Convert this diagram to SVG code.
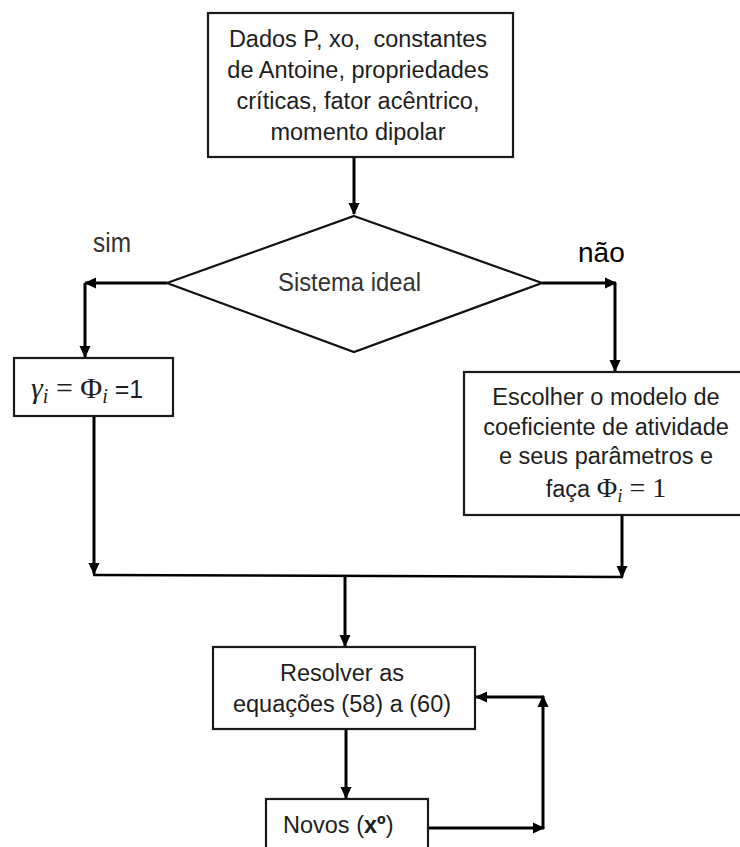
<svg xmlns="http://www.w3.org/2000/svg" width="740" height="847" viewBox="0 0 740 847">
  <defs>
    <marker id="ah" viewBox="0 0 12 12" refX="11" refY="6" markerWidth="12" markerHeight="12" markerUnits="userSpaceOnUse" orient="auto">
      <path d="M0,0.5 L12,6 L0,11.5 z" fill="#000"/>
    </marker>
    <style>
      .box { fill: #fff; stroke: #1a1a1a; stroke-width: 2.2; }
      .lbl { font-family: "Liberation Sans", Arial, sans-serif; font-size: 23.5px; fill: #1e1e1e; white-space: pre; }
      .nar { font-family: "Liberation Sans Narrow", "Liberation Sans", sans-serif; fill: #333; }
      .math { font-family: "Liberation Serif", "DejaVu Serif", serif; }
      .it { font-style: italic; }
      .con { fill: none; stroke: #000; stroke-width: 3; }
    </style>
  </defs>
  <rect width="740" height="847" fill="#fff"/>

  <!-- connectors -->
  <g id="connectors">
    <path class="con" d="M354,157 V214" marker-end="url(#ah)"/>
    <path class="con" d="M167,283 H85" marker-end="url(#ah)"/>
    <path class="con" d="M85,283 V357" marker-end="url(#ah)"/>
    <path class="con" d="M542,283 H616" marker-end="url(#ah)"/>
    <path class="con" d="M615,283 V371" marker-end="url(#ah)"/>
    <path class="con" d="M94,416 V574" marker-end="url(#ah)"/>
    <path class="con" d="M622,515 V577" marker-end="url(#ah)"/>
    <path class="con" d="M93,575 L623,577" style="stroke-width:2.5"/>
    <path class="con" d="M345,576 V646" marker-end="url(#ah)"/>
    <path class="con" d="M346,730 V798" marker-end="url(#ah)"/>
    <path class="con" d="M428,828 H544" marker-end="url(#ah)"/>
    <path class="con" d="M543,829 V696" marker-end="url(#ah)"/>
    <path class="con" d="M544,697 H476" marker-end="url(#ah)"/>
  </g>

  <!-- input data -->
  <g id="dados">
    <rect class="box" x="208" y="13" width="305" height="144"/>
    <text class="lbl" text-anchor="middle" xml:space="preserve"><tspan x="358" y="47">Dados P, xo,  constantes</tspan><tspan x="358" y="78">de Antoine, propriedades</tspan><tspan x="358" y="109">críticas, fator acêntrico,</tspan><tspan x="358" y="140">momento dipolar</tspan></text>
  </g>

  <!-- decision -->
  <g id="decisao">
    <polygon points="354,216 542,283 354,352 167,283" fill="#fff" stroke="#111" stroke-width="2.2"/>
    <text class="nar" x="278" y="291" font-size="26" textLength="143" lengthAdjust="spacingAndGlyphs">Sistema ideal</text>
    <text class="nar" x="93" y="252" font-size="27" textLength="38" lengthAdjust="spacingAndGlyphs">sim</text>
    <text class="lbl" x="578" y="262" style="font-size:28px;fill:#000">não</text>
  </g>

  <!-- ideal branch -->
  <g id="ideal">
    <rect class="box" x="14" y="358" width="159" height="58"/>
    <text class="lbl" x="31" y="398"><tspan class="math it" font-size="30">γ</tspan><tspan class="math it" font-size="20" dy="5">i</tspan><tspan class="math" font-size="30" dy="-5"> = Φ</tspan><tspan class="math it" font-size="20" dy="5">i</tspan><tspan dy="-5" font-size="25"> =1</tspan></text>
  </g>

  <!-- non-ideal branch -->
  <g id="modelo">
    <rect class="box" x="464" y="372" width="290" height="143"/>
    <text class="lbl" text-anchor="middle"><tspan x="606" y="405">Escolher o modelo de</tspan><tspan x="606" y="435">coeficiente de atividade</tspan><tspan x="606" y="464">e seus parâmetros e</tspan></text>
    <text class="lbl" x="606" y="497" text-anchor="middle">faça <tspan class="math" font-size="28">Φ</tspan><tspan class="math it" font-size="19" dy="5">i</tspan><tspan class="math" font-size="28" dy="-5"> = 1</tspan></text>
  </g>

  <!-- solve -->
  <g id="resolver">
    <rect class="box" x="213" y="647" width="262" height="82"/>
    <text class="lbl" text-anchor="middle"><tspan x="342" y="681">Resolver as</tspan><tspan x="342" y="712">equações (58) a (60)</tspan></text>
  </g>

  <!-- new estimate -->
  <g id="novos">
    <rect class="box" x="266" y="799" width="162" height="60"/>
    <text class="lbl" x="283" y="833">Novos (<tspan font-weight="bold">xº</tspan>)</text>
  </g>
</svg>
